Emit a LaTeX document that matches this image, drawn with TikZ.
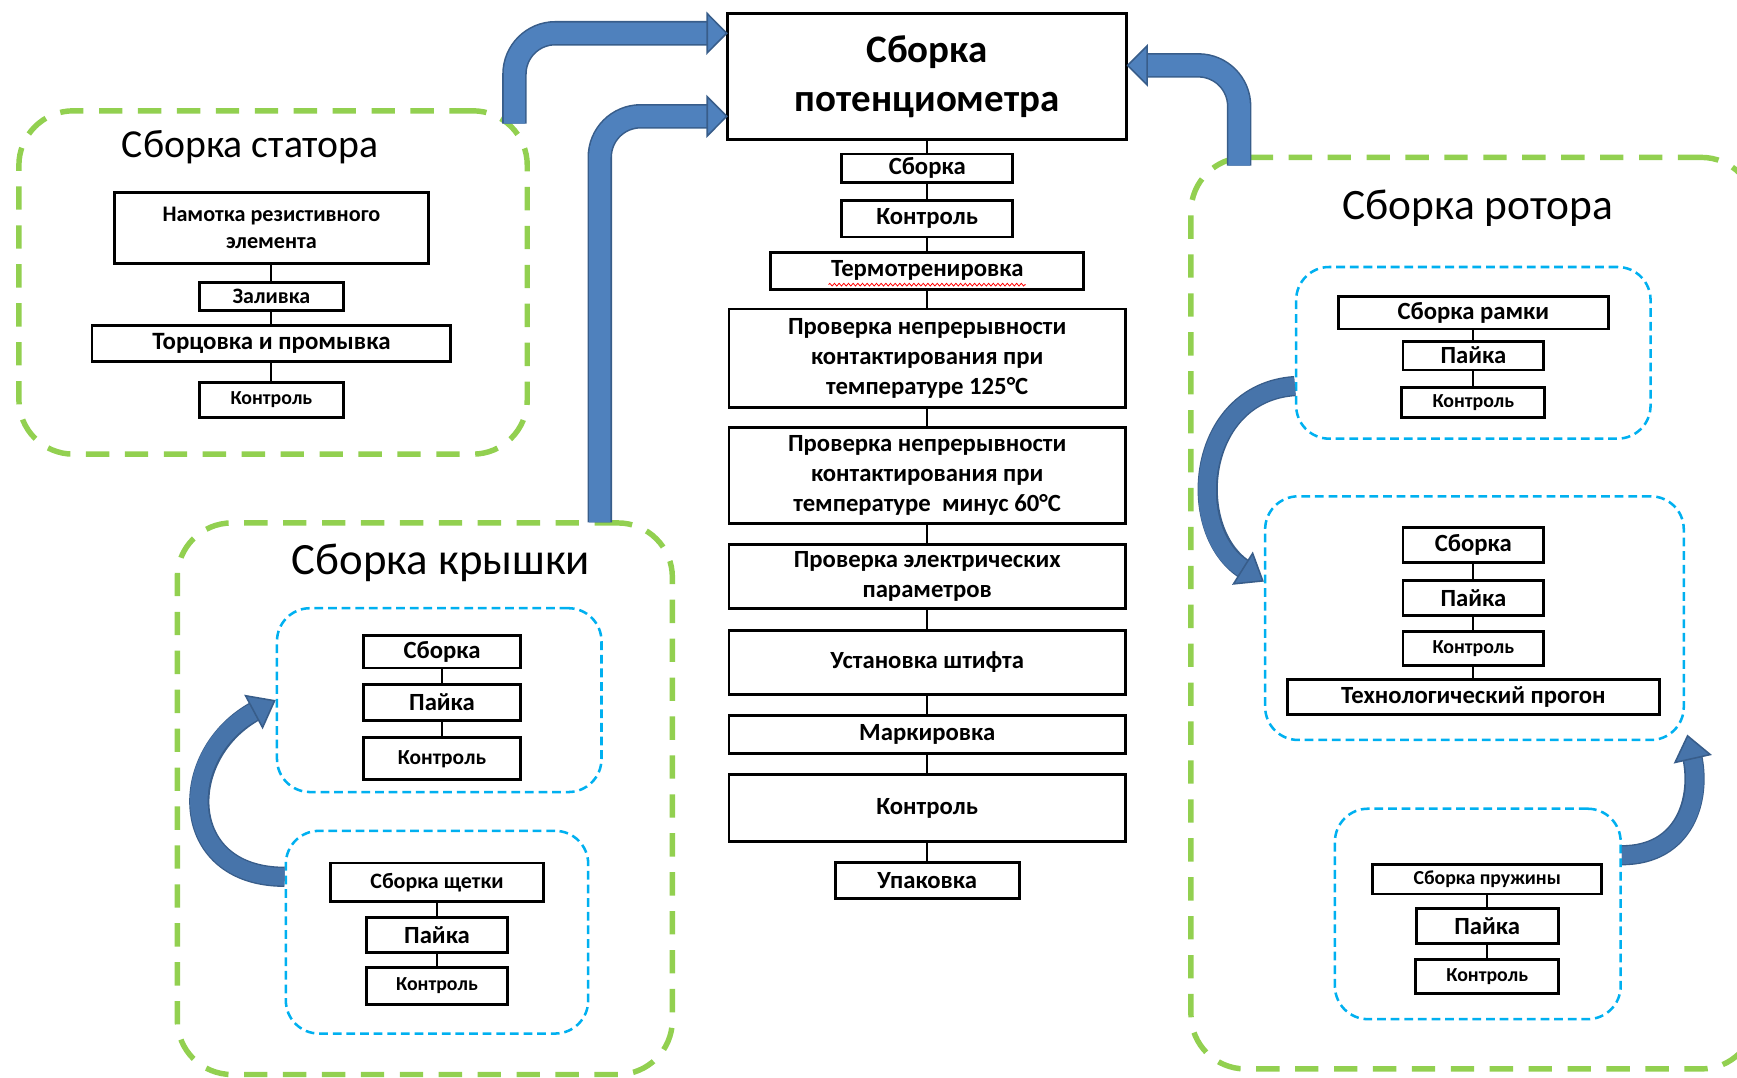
\documentclass[tikz,border=0pt]{standalone}
\usepackage{fontspec}
\setmainfont{Carlito}
\usetikzlibrary{positioning,calc,arrows.meta,decorations.pathmorphing}

\definecolor{grpgreen}{HTML}{92D050}
\definecolor{subblue}{HTML}{00B0F0}
\definecolor{arrowfill}{HTML}{4F81BD}
\definecolor{arrowedge}{HTML}{385D8A}

\tikzset{x=0.02cm, y=-0.02cm, % one unit = one pixel of the sketch, y downwards
        stage/.style={ % operation boxes
            draw, line width=1.5pt,
            align=center, inner sep=0pt, outer sep=0pt,
            font=\bfseries\fontsize{12.7}{15.4}\selectfont},
        small/.style={font=\bfseries\fontsize{10.2}{13.5}\selectfont},
        group/.style={ % big green frames
            draw=grpgreen, line width=2.8pt,
            dash pattern=on 12pt off 8pt,
            rounded corners=28pt},
        subgroup/.style={ % blue frames inside a group
            draw=subblue, line width=1.3pt,
            dash pattern=on 4.5pt off 2.5pt,
            rounded corners=17pt},
        grouptitle/.style={font=\fontsize{20.4}{24}\selectfont},
        link/.style={line width=1.1pt},
        bigarrow/.style={
            draw=arrowfill, line width=11pt, rounded corners=21pt,
            -{Triangle[length=11pt,width=22pt,color=arrowedge,fill=arrowfill,line width=0.8pt]},
            preaction={draw=arrowedge, line width=12.6pt, shorten >=10pt, -}},
        bendarrow/.style={
            draw=arrowfill!90!black, line width=9pt,
            -{Triangle[length=13pt,width=20pt,color=arrowedge,fill=arrowfill!90!black,line width=0.8pt]},
            preaction={draw=arrowedge, line width=10.4pt, shorten >=11pt, -}}
        }

\begin{document}
\begin{tikzpicture}
    \useasboundingbox (0,0) rectangle (1568,973);

    % main line
    \node[stage, minimum width=7.2cm, minimum height=2.28cm,
          font=\bfseries\fontsize{20}{25}\selectfont] (pot) at (837,69) {Сборка\\потенциометра};
    \node[stage, minimum width=3.08cm, minimum height=0.52cm] (s1) [below=0.26cm of pot] {Сборка};
    \node[stage, minimum width=3.08cm, minimum height=0.66cm] (s2) [below=0.32cm of s1] {Контроль};
    \node[stage, minimum width=5.66cm, minimum height=0.66cm] (s3) [below=0.28cm of s2] {Термотренировка};
    \node[stage, minimum width=7.16cm, minimum height=1.78cm] (s4) [below=0.36cm of s3]
        {Проверка непрерывности\\контактирования при\\температуре 125°C};
    \node[stage, minimum width=7.16cm, minimum height=1.74cm] (s5) [below=0.36cm of s4]
        {Проверка непрерывности\\контактирования при\\температуре\ \ минус 60°C};
    \node[stage, minimum width=7.16cm, minimum height=1.14cm] (s6) [below=0.38cm of s5]
        {Проверка электрических\\параметров};
    \node[stage, minimum width=7.16cm, minimum height=1.16cm] (s7) [below=0.40cm of s6] {Установка штифта};
    \node[stage, minimum width=7.16cm, minimum height=0.68cm] (s8) [below=0.38cm of s7] {Маркировка};
    \node[stage, minimum width=7.16cm, minimum height=1.22cm] (s9) [below=0.38cm of s8] {Контроль};
    \node[stage, minimum width=3.32cm, minimum height=0.64cm] (s10) [below=0.38cm of s9] {Упаковка};

    \draw[red, line width=0.4pt, decorate, decoration={zigzag, amplitude=0.7pt, segment length=2.4pt}]
        ($(s3.south)+(-89,-4)$) -- ($(s3.south)+(89,-4)$);

    \foreach \a/\b in {pot/s1, s1/s2, s2/s3, s3/s4, s4/s5, s5/s6, s6/s7, s7/s8, s8/s9, s9/s10}
        \draw[link] (\a) -- (\b);

    % stator
    \node[group, minimum width=9.18cm, minimum height=6.2cm] (stator) at (246.5,255) {};
    \node[grouptitle] (statortitle) at (226,133) {Сборка статора};
    \node[stage, minimum width=5.68cm, minimum height=1.28cm,
          font=\bfseries\fontsize{11.4}{13.7}\selectfont] (st1) at (245,206) {Намотка резистивного\\элемента};
    \node[stage, minimum width=2.6cm, minimum height=0.5cm,
          font=\bfseries\fontsize{11.3}{13}\selectfont] (st2) [below=0.34cm of st1] {Заливка};
    \node[stage, minimum width=6.48cm, minimum height=0.64cm,
          font=\bfseries\fontsize{12.8}{14}\selectfont] (st3) [below=0.28cm of st2] {Торцовка и промывка};
    \node[stage, small, minimum width=2.6cm, minimum height=0.64cm] (st4) [below=0.38cm of st3] {Контроль};
    \foreach \a/\b in {st1/st2, st2/st3, st3/st4}
        \draw[link] (\a) -- (\b);

    % lid
    \node[group, minimum width=8.94cm, minimum height=9.96cm] (lid) at (383.5,721) {};
    \node[grouptitle, font=\fontsize{23}{26}\selectfont] (lidtitle) at (398,508) {Сборка крышки};
    \node[subgroup, minimum width=5.86cm, minimum height=3.32cm] (lida) at (396.5,632) {};
    \node[stage, minimum width=2.84cm, minimum height=0.58cm] (la1) at (399,588.5) {Сборка};
    \node[stage, minimum width=2.84cm, minimum height=0.64cm] (la2) [below=0.3cm of la1] {Пайка};
    \node[stage, minimum width=2.84cm, minimum height=0.76cm,
          font=\bfseries\fontsize{11}{13}\selectfont] (la3) [below=0.32cm of la2] {Контроль};
    \node[subgroup, minimum width=5.46cm, minimum height=3.66cm] (lidb) at (394.5,841.5) {};
    \node[stage, minimum width=3.86cm, minimum height=0.7cm,
          font=\bfseries\fontsize{11.3}{13}\selectfont] (lb1) at (394.5,796.5) {Сборка щетки};
    \node[stage, minimum width=2.56cm, minimum height=0.64cm] (lb2) [below=0.28cm of lb1] {Пайка};
    \node[stage, small, minimum width=2.56cm, minimum height=0.68cm] (lb3) [below=0.26cm of lb2] {Контроль};
    \foreach \a/\b in {la1/la2, la2/la3, lb1/lb2, lb2/lb3}
        \draw[link] (\a) -- (\b);

    % rotor
    \node[group, minimum width=10.2cm, minimum height=16.46cm] (rotor) at (1330,553.5) {};
    \node[grouptitle, font=\fontsize{22.3}{26}\selectfont] (rotortitle) at (1334,188) {Сборка ротора};
    \node[subgroup, minimum width=6.4cm, minimum height=3.1cm] (rota) at (1330,318.5) {};
    \node[stage, minimum width=4.88cm, minimum height=0.58cm] (ra1) at (1330,282.5) {Сборка рамки};
    \node[stage, minimum width=2.54cm, minimum height=0.52cm] (ra2) [below=0.22cm of ra1] {Пайка};
    \node[stage, small, minimum width=2.58cm, minimum height=0.54cm] (ra3) [below=0.32cm of ra2] {Контроль};
    \node[subgroup, minimum width=7.56cm, minimum height=4.4cm] (rotb) at (1331,558) {};
    \node[stage, minimum width=2.54cm, minimum height=0.64cm] (rb1) at (1330,492) {Сборка};
    \node[stage, minimum width=2.54cm, minimum height=0.64cm] (rb2) [below=0.32cm of rb1] {Пайка};
    \node[stage, small, minimum width=2.54cm, minimum height=0.62cm] (rb3) [below=0.28cm of rb2] {Контроль};
    \node[stage, minimum width=6.72cm, minimum height=0.64cm] (rb4) [below=0.24cm of rb3] {Технологический прогон};
    \node[subgroup, minimum width=5.16cm, minimum height=3.8cm] (rotc) at (1334,825) {};
    \node[stage, small, minimum width=4.14cm, minimum height=0.54cm] (rc1) at (1342.5,793.5) {Сборка пружины};
    \node[stage, minimum width=2.56cm, minimum height=0.64cm] (rc2) [below=0.26cm of rc1] {Пайка};
    \node[stage, small, minimum width=2.58cm, minimum height=0.62cm] (rc3) [below=0.28cm of rc2] {Контроль};
    \foreach \a/\b in {ra1/ra2, ra2/ra3, rb1/rb2, rb2/rb3, rb3/rb4, rc1/rc2, rc2/rc3}
        \draw[link] (\a) -- (\b);

    % block arrows
    \draw[bigarrow] ($(stator.north east)+(-14,14)$) |- ($(pot.north west)+(0,18)$);
    \draw[bigarrow] ($(lid.north east)+(-68,2)$) |- ($(pot.south west)+(0,-21)$);
    \draw[bigarrow] ($(rotor.north west)+(46,10)$) |- ($(pot.north east)+(0,47)$);

    \draw[bendarrow] ($(lidb.west)+(0,-50)$) .. controls +(-98,0) and +(-90,48) .. (lida.west);
    \draw[bendarrow] ($(rota.west)+(0,30)$) .. controls +(-90,6) and +(-72,-45) .. ($(rotb.west)+(0,-33)$);
    \draw[bendarrow] ($(rotc.east)+(0,-53)$) .. controls +(57,0) and +(13,58) .. ($(rotb.south east)+(2,-6)$);
\end{tikzpicture}
\end{document}
